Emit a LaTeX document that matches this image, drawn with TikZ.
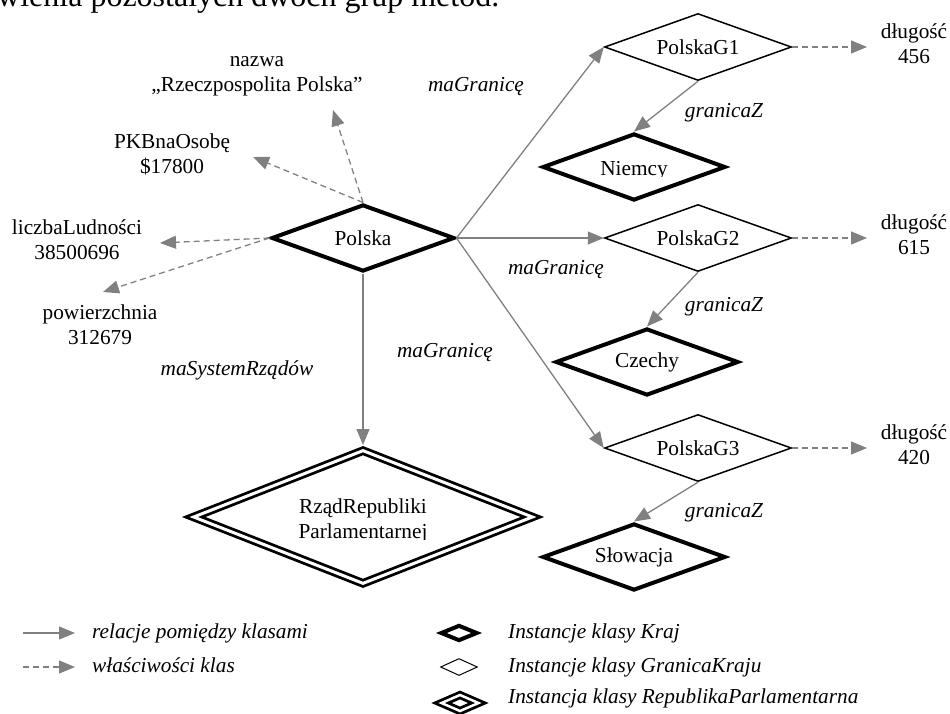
\documentclass[tikz,border=0pt]{standalone}
\usepackage{fontspec}
\setmainfont{Liberation Serif}
\usetikzlibrary{shapes.geometric,arrows.meta}
\newcommand{\rozmiar}{\fontsize{21.3pt}{25pt}\selectfont}

\begin{document}
\begin{tikzpicture}[x=1pt,y=-1pt,
	kraj/.style={draw,diamond,line width=4pt,inner sep=0,minimum width=183pt,minimum height=67pt,aspect=2.7,font=\rozmiar},
	granica/.style={draw,diamond,line width=1.5pt,inner sep=0,minimum width=187pt,minimum height=67pt,aspect=2.7,font=\rozmiar},
	republika/.style={draw,diamond,double,line width=2.8pt,double distance=3pt,inner sep=0,minimum width=342pt,minimum height=136pt,aspect=2.5,outer sep=4pt},
	relacja/.style={draw=gray,line width=1.3pt,-{Triangle[length=16pt,width=13pt]}},
	wlasciwosc/.style={relacja,dash pattern=on 6pt off 4pt},
	wartosc/.style={align=center,font=\rozmiar,inner sep=0},
	etykieta/.style={font=\rozmiar\itshape,inner sep=0},
	opis/.style={anchor=base west,font=\rozmiar\itshape,inner sep=0}]
	\useasboundingbox (0,0) rectangle (950,714);
	\node[anchor=base west,inner sep=0,font=\fontsize{32pt}{36pt}\selectfont] (tekst) at (-3,7) {wienia pozostałych dwóch grup metod.};
	\node[kraj] (polska) at (363,238) {Polska};
	\node[granica] (g1) at (698,47) {PolskaG1};
	\node[kraj] (niemcy) at (634,167) {};
	\node[granica] (g2) at (698,238) {PolskaG2};
	\node[kraj] (czechy) at (647,362) {Czechy};
	\node[granica] (g3) at (698,448) {PolskaG3};
	\node[kraj] (slowacja) at (634,557) {Słowacja};
	\node[republika] (rzad) at (363,517) {};
	\begin{scope}
		\clip (540,140) rectangle (730,177);
		\node[font=\rozmiar] (niemcyTekst) at (634,171) {Niemcy};
	\end{scope}
	\begin{scope}
		\clip (250,480) rectangle (480,539);
		\node[wartosc] (rzadTekst) at (363,520.5) {RządRepubliki\\Parlamentarnej};
	\end{scope}
	\node[wartosc] (nazwa) at (257,76) {nazwa\\„Rzeczpospolita Polska”};
	\node[wartosc] (pkb) at (172,154) {PKBnaOsobę\\\$17800};
	\node[wartosc] (liczba) at (77,240) {liczbaLudności\\38500696};
	\node[wartosc] (pow) at (100,325) {powierzchnia\\312679};
	\node[wartosc] (dl1) at (914,44) {długość\\456};
	\node[wartosc] (dl2) at (914,235) {długość\\615};
	\node[wartosc] (dl3) at (914,445) {długość\\420};
	\node[etykieta] (mg1) at (476,87) {maGranicę};
	\node[etykieta] (mg2) at (556,270) {maGranicę};
	\node[etykieta] (mg3) at (445,353) {maGranicę};
	\node[etykieta] (msr) at (237,370) {maSystemRządów};
	\node[etykieta] (gz1) at (724,113) {granicaZ};
	\node[etykieta] (gz2) at (724,307) {granicaZ};
	\node[etykieta] (gz3) at (724,513) {granicaZ};
	\coordinate (nazwaK) at (333,110);
	\coordinate (pkbK) at (253,157);
	\coordinate (liczbaK) at (160,243);
	\coordinate (powK) at (103,292);
	\coordinate (dl1K) at (867,47);
	\coordinate (dl2K) at (867,238);
	\coordinate (dl3K) at (867,448);
	\draw[relacja] (polska.south) -- (rzad.north);
	\draw[relacja] (polska.east) -- (g1.west);
	\draw[relacja] (polska.east) -- (g2.west);
	\draw[relacja] (polska.east) -- (g3.west);
	\draw[relacja] (g1.south) -- (niemcy.north);
	\draw[relacja] (g2.south) -- (czechy.north);
	\draw[relacja] (g3.south) -- (slowacja.north);
	\draw[wlasciwosc] (polska.north) -- (nazwaK);
	\draw[wlasciwosc] (polska.north) -- (pkbK);
	\draw[wlasciwosc] (polska.west) -- (liczbaK);
	\draw[wlasciwosc] (polska.west) -- (powK);
	\draw[wlasciwosc] (g1.east) -- (dl1K);
	\draw[wlasciwosc] (g2.east) -- (dl2K);
	\draw[wlasciwosc] (g3.east) -- (dl3K);
	\coordinate (leg1a) at (23,633);
	\coordinate (leg1b) at (75,633);
	\coordinate (leg2a) at (23,667);
	\coordinate (leg2b) at (75,667);
	\draw[relacja] (leg1a) -- (leg1b);
	\draw[wlasciwosc] (leg2a) -- (leg2b);
	\node[opis] (opisRelacji) at (92,638) {relacje pomiędzy klasami};
	\node[opis] (opisWlasciwosci) at (92,672) {właściwości klas};
	\node[kraj,minimum width=37pt,minimum height=16pt] (legKraj) at (459,633) {};
	\node[granica,line width=1pt,minimum width=37pt,minimum height=17pt] (legGranica) at (459,667) {};
	\node[republika,double distance=2.5pt,minimum width=37pt,minimum height=16pt,outer sep=0] (legRepublika) at (460,703) {};
	\node[opis] (opisKraj) at (508,638) {Instancje klasy Kraj};
	\node[opis] (opisGranica) at (508,672) {Instancje klasy GranicaKraju};
	\node[opis] (opisRepublika) at (508,703) {Instancja klasy RepublikaParlamentarna};
\end{tikzpicture}
\end{document}
